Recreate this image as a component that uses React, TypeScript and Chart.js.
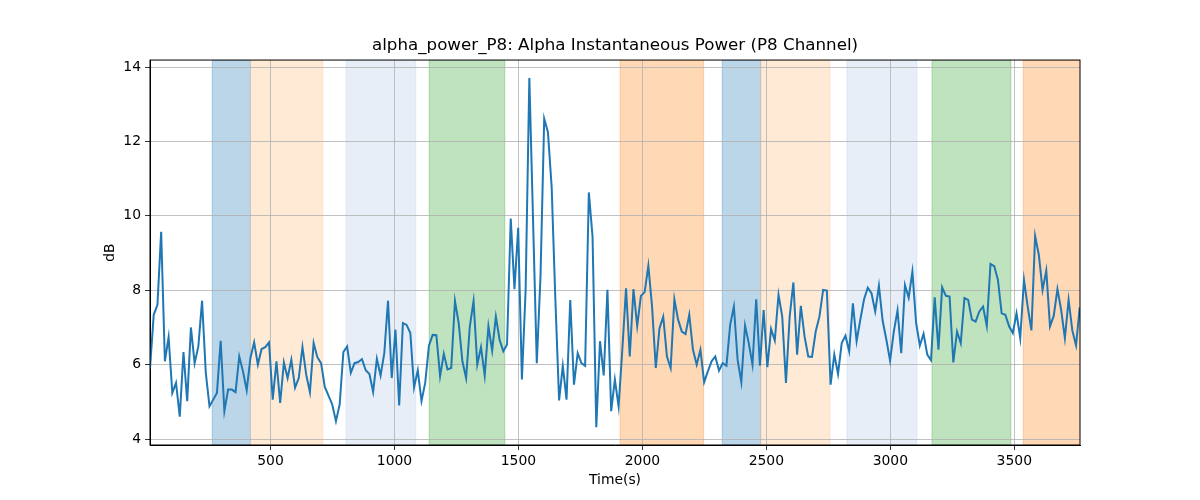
import React, { FC, useEffect, useRef } from 'react';
import Chart from 'chart.js/auto';

// sampling of the recording (seconds)
const T_START = 14;
const T_STEP = 15;

// alpha power, P8 channel (dB)
const alphaPower: number[] = [
  5.9, 7.34, 7.61, 9.57, 6.09, 6.74, 5.24, 5.51, 4.6, 6.34,
  5.02, 7.0, 6.04, 6.49, 7.72, 5.78, 4.88, 5.06, 5.24, 6.64,
  4.75, 5.33, 5.33, 5.26, 6.22, 5.82, 5.31, 6.18, 6.6, 6.0,
  6.42, 6.47, 6.6, 5.06, 6.09, 4.97, 6.06, 5.64, 6.13, 5.38,
  5.64, 6.47, 5.73, 5.26, 6.58, 6.2, 6.04, 5.4, 5.17, 4.93,
  4.48, 4.93, 6.34, 6.49, 5.78, 6.04, 6.07, 6.15, 5.85, 5.75,
  5.27, 6.16, 5.71, 6.31, 7.72, 5.64, 6.94, 4.9, 7.12, 7.07,
  6.85, 5.39, 5.85, 5.02, 5.51, 6.51, 6.8, 6.79, 5.69, 6.29,
  5.87, 5.91, 7.71, 7.12, 6.09, 5.64, 7.03, 7.71, 6.0, 6.47,
  5.71, 7.03, 6.38, 7.29, 6.67, 6.36, 6.54, 9.93, 8.03, 9.68,
  5.6, 8.0, 13.71, 9.88, 6.04, 8.37, 12.61, 12.25, 10.78, 7.74,
  5.04, 5.97, 5.06, 7.74, 5.46, 6.31, 6.04, 5.97, 10.63, 9.44,
  4.32, 6.63, 5.71, 8.01, 4.75, 5.6, 4.88, 6.4, 8.05, 6.22,
  8.03, 7.04, 7.85, 7.95, 8.66, 7.56, 5.91, 6.98, 7.29, 6.22,
  5.91, 7.76, 7.21, 6.89, 6.82, 7.34, 6.4, 6.0, 6.4, 5.53,
  5.82, 6.09, 6.22, 5.84, 6.04, 5.97, 7.07, 7.56, 6.13, 5.53,
  7.05, 6.58, 6.0, 7.76, 5.97, 7.47, 5.93, 6.96, 6.65, 7.88,
  7.29, 5.51, 7.29, 8.21, 6.27, 7.58, 6.76, 6.22, 6.21, 6.89,
  7.29, 8.01, 7.99, 5.46, 6.27, 5.75, 6.58, 6.78, 6.36, 7.65,
  6.63, 7.21, 7.76, 8.07, 7.92, 7.43, 8.12, 7.18, 6.67, 6.11,
  6.89, 7.46, 6.31, 8.14, 7.8, 8.5, 7.12, 6.51, 6.83, 6.27,
  6.12, 7.81, 6.4, 8.08, 7.85, 7.83, 6.06, 6.89, 6.58, 7.79,
  7.74, 7.21, 7.16, 7.43, 7.56, 7.04, 8.71, 8.65, 8.28, 7.38,
  7.34, 7.03, 6.85, 7.38, 6.71, 8.28, 7.56, 6.92, 9.46, 8.95,
  8.01, 8.53, 7.03, 7.31, 8.03, 7.47, 6.71, 7.74, 6.92, 6.52,
  7.54,
];

// shaded stimulus blocks
const bandStart = [265, 419, 805, 1140, 1910, 2322, 2477, 2825, 3168, 3536];
const bandEnd = [419, 711, 1086, 1445, 2247, 2477, 2756, 3107, 3486, 3800];
const bandColor = [
  'rgba(31,119,180,0.3)',
  'rgba(255,187,120,0.3)',
  'rgba(174,199,232,0.3)',
  'rgba(44,160,44,0.3)',
  'rgba(255,127,14,0.3)',
  'rgba(31,119,180,0.3)',
  'rgba(255,187,120,0.3)',
  'rgba(174,199,232,0.3)',
  'rgba(44,160,44,0.3)',
  'rgba(255,127,14,0.3)',
];

const xTicks = [500, 1000, 1500, 2000, 2500, 3000, 3500];
const yTicks = [4, 6, 8, 10, 12, 14];

const FONT = 'DejaVu Sans';

const bandsPlugin = {
  id: 'bands',
  beforeDraw(chart: Chart) {
    const { ctx, chartArea } = chart;
    const x = chart.scales.x;
    ctx.save();
    ctx.beginPath();
    ctx.rect(chartArea.left, chartArea.top, chartArea.right - chartArea.left, chartArea.bottom - chartArea.top);
    ctx.clip();
    bandStart.forEach((s, i) => {
      const x0 = x.getPixelForValue(s);
      const x1 = x.getPixelForValue(bandEnd[i]);
      ctx.fillStyle = bandColor[i];
      ctx.fillRect(x0, chartArea.top, x1 - x0, chartArea.bottom - chartArea.top);
      ctx.strokeStyle = bandColor[i];
      ctx.lineWidth = 1;
      ctx.strokeRect(x0, chartArea.top, x1 - x0, chartArea.bottom - chartArea.top);
    });
    ctx.restore();
  },
  afterDraw(chart: Chart) {
    const { ctx, chartArea } = chart;
    ctx.save();
    ctx.strokeStyle = '#000';
    ctx.lineWidth = 1;
    ctx.strokeRect(chartArea.left, chartArea.top, chartArea.right - chartArea.left, chartArea.bottom - chartArea.top);
    ctx.restore();
  },
};

const App: FC = () => {
  const chartRef = useRef<HTMLCanvasElement | null>(null);
  const chartInstance = useRef<Chart | null>(null);

  useEffect(() => {
    if (!chartRef.current) return;
    if (chartInstance.current) chartInstance.current.destroy();

    const points = alphaPower.map((v, i) => ({ x: T_START + T_STEP * i, y: v }));

    chartInstance.current = new Chart(chartRef.current, {
      type: 'line',
      data: {
        datasets: [
          {
            data: points,
            borderColor: '#1f77b4',
            borderWidth: 2,
            pointRadius: 0,
            tension: 0,
            fill: false,
          },
        ],
      },
      options: {
        animation: false,
        responsive: false,
        layout: { padding: { top: 0, right: 120, bottom: 0, left: 0 } },
        plugins: {
          legend: { display: false },
          tooltip: { enabled: false },
          title: {
            display: true,
            text: 'alpha_power_P8: Alpha Instantaneous Power (P8 Channel)',
            fullSize: false,
            color: '#000',
            font: { family: FONT, size: 16.7, weight: 'normal' },
            padding: { top: 36, bottom: 4 },
          },
        },
        scales: {
          x: {
            type: 'linear',
            min: T_START,
            max: 3765,
            afterBuildTicks: (scale) => {
              scale.ticks = xTicks.map((value) => ({ value }));
            },
            afterFit: (scale) => {
              scale.height = 55;
            },
            ticks: {
              color: '#000',
              font: { family: FONT, size: 13.9 },
              padding: 3,
              maxRotation: 0,
              autoSkip: false,
              callback: (value) => String(value),
            },
            grid: { color: '#b0b0b0', lineWidth: 0.8, tickColor: '#000', tickLength: 5 },
            border: { display: true, color: '#000', width: 1 },
            title: {
              display: true,
              text: 'Time(s)',
              color: '#000',
              font: { family: FONT, size: 13.9 },
              padding: { top: 0, bottom: 11 },
            },
          },
          y: {
            type: 'linear',
            min: 3.84,
            max: 14.19,
            afterBuildTicks: (scale) => {
              scale.ticks = yTicks.map((value) => ({ value }));
            },
            afterFit: (scale) => {
              scale.width = 150;
            },
            ticks: {
              color: '#000',
              font: { family: FONT, size: 13.9 },
              padding: 4,
              autoSkip: false,
              callback: (value) => String(value),
            },
            grid: { color: '#b0b0b0', lineWidth: 0.8, tickColor: '#000', tickLength: 5 },
            border: { display: true, color: '#000', width: 1 },
            title: {
              display: true,
              text: 'dB',
              color: '#000',
              font: { family: FONT, size: 13.9 },
              padding: { top: 102, bottom: 0 },
            },
          },
        },
      },
      plugins: [bandsPlugin],
    });

    return () => {
      if (chartInstance.current) {
        chartInstance.current.destroy();
        chartInstance.current = null;
      }
    };
  }, []);

  return (
    <div style={{ position: 'fixed', left: 0, top: 0, width: '1200px', height: '500px', background: '#fff' }}>
      <canvas ref={chartRef} width={1200} height={500} />
    </div>
  );
};

export default App;
